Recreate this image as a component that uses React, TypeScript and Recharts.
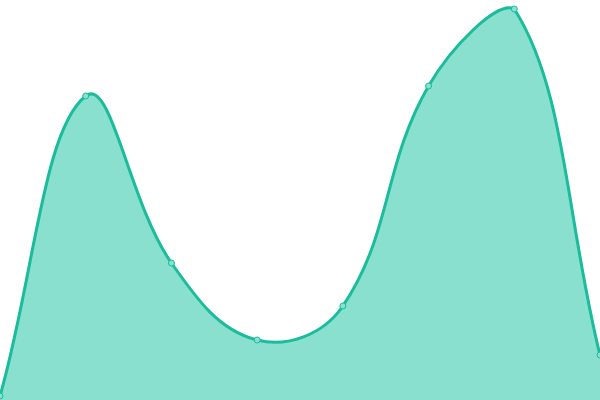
import { AreaChart, Area, XAxis, YAxis } from "recharts"

const categories = ["A", "B", "C", "D", "E", "F", "G", "H"]
const values = [1, 76, 34.25, 15, 23.5, 78.5, 97.75, 11.25]

const data = categories.map((name, i) => ({ name, value: values[i] }))

const W = 600
const H = 400
const TENSION = 0.4

// spline like chart.js: control points scaled by segment lengths, capped to the plot box
function splineCurve(context: any) {
    let pts: number[][] = []
    let line = NaN
    const cap = (v: number, lo: number, hi: number) => Math.max(Math.min(v, hi), lo)
    return {
        areaStart() { line = 0 },
        areaEnd() { line = NaN },
        lineStart() { pts = [] },
        lineEnd() {
            const n = pts.length
            if (n) {
                if (line) context.lineTo(pts[0][0], pts[0][1])
                else context.moveTo(pts[0][0], pts[0][1])
                const cps = pts.map((p, i) => {
                    const prev = pts[i - 1] || p
                    const next = pts[i + 1] || p
                    const d01 = Math.hypot(p[0] - prev[0], p[1] - prev[1])
                    const d12 = Math.hypot(next[0] - p[0], next[1] - p[1])
                    let s01 = d01 / (d01 + d12)
                    let s12 = d12 / (d01 + d12)
                    if (isNaN(s01)) s01 = 0
                    if (isNaN(s12)) s12 = 0
                    const fa = TENSION * s01
                    const fb = TENSION * s12
                    const vx = next[0] - prev[0]
                    const vy = next[1] - prev[1]
                    return {
                        px: cap(p[0] - fa * vx, 0, W), py: cap(p[1] - fa * vy, 0, H),
                        nx: cap(p[0] + fb * vx, 0, W), ny: cap(p[1] + fb * vy, 0, H),
                    }
                })
                for (let i = 1; i < n; i++) {
                    context.bezierCurveTo(cps[i - 1].nx, cps[i - 1].ny, cps[i].px, cps[i].py, pts[i][0], pts[i][1])
                }
            }
            if (line || (line !== 0 && n === 1)) context.closePath()
            line = 1 - line
        },
        point(x: number, y: number) { pts.push([+x, +y]) },
    }
}

export default function App() {
    return (
        <div style={{ position: "absolute", left: 0, top: 0, width: W, height: H }}>
            <AreaChart width={W} height={H} data={data} margin={{ top: 0, right: 0, bottom: 0, left: 0 }}>
                <XAxis dataKey="name" hide />
                <YAxis domain={[0, 100]} hide />
                <Area
                    type={splineCurve as any}
                    dataKey="value"
                    stroke="#1abc9c"
                    strokeWidth={3}
                    fill="#89e0cf"
                    fillOpacity={1}
                    dot={{ r: 3, fill: "#89e0cf", stroke: "#1abc9c", strokeWidth: 1, fillOpacity: 1 }}
                    activeDot={false}
                    isAnimationActive={false}
                />
            </AreaChart>
        </div>
    )
}
